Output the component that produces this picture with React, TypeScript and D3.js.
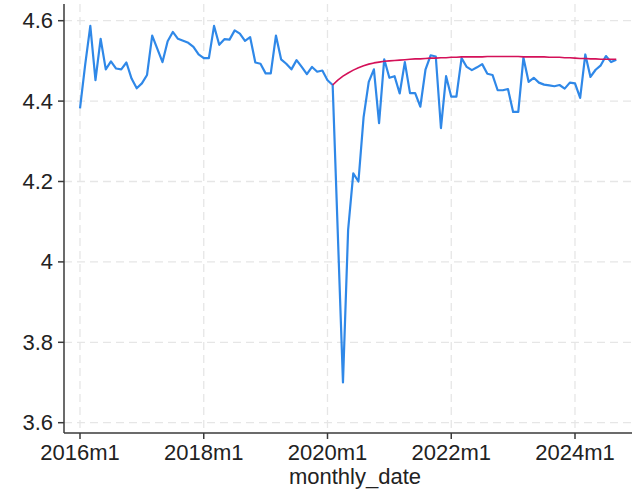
import React from "react";
import * as d3 from "d3";

const W = 643;
const H = 490;

// monthly observations from 2016m1 (index 0) to 2024m9 (index 104)
const actualValues = [
  4.382, 4.49, 4.587, 4.452, 4.555, 4.479, 4.499, 4.481, 4.479, 4.496, 4.456, 4.432,
  4.444, 4.465, 4.563, 4.53, 4.497, 4.549, 4.572, 4.555, 4.55, 4.545, 4.535, 4.516,
  4.507, 4.507, 4.587, 4.54, 4.554, 4.553, 4.576, 4.568, 4.55, 4.559, 4.496, 4.493,
  4.469, 4.469, 4.563, 4.504, 4.493, 4.479, 4.502, 4.485, 4.467, 4.485, 4.473, 4.476,
  4.452, 4.44, 4.07, 3.7, 4.08, 4.22, 4.2, 4.36, 4.448, 4.479, 4.345, 4.504,
  4.458, 4.462, 4.419, 4.497, 4.42, 4.42, 4.386, 4.478, 4.514, 4.511, 4.333, 4.462,
  4.411, 4.411, 4.507, 4.485, 4.477, 4.484, 4.492, 4.468, 4.465, 4.427, 4.427, 4.43,
  4.373, 4.373, 4.508, 4.448, 4.458, 4.446, 4.441, 4.439, 4.437, 4.44, 4.431, 4.446,
  4.444, 4.408, 4.516, 4.46, 4.478, 4.489, 4.512, 4.497, 4.503,
];

// counterfactual path starting at 2020m2 (index 49)
const forecastStart = 49;
const forecastValues = [
  4.44, 4.452, 4.462, 4.47, 4.477, 4.483, 4.488, 4.492, 4.495, 4.497, 4.499, 4.5,
  4.501, 4.502, 4.503, 4.504, 4.505, 4.505, 4.506, 4.507, 4.507, 4.508, 4.508, 4.509,
  4.509, 4.51, 4.51, 4.51, 4.51, 4.51, 4.511, 4.511, 4.511, 4.511, 4.511, 4.511,
  4.511, 4.51, 4.51, 4.51, 4.51, 4.51, 4.509, 4.509, 4.509, 4.508, 4.508, 4.507,
  4.506, 4.506, 4.505, 4.505, 4.504, 4.504, 4.504, 4.504,
];

const xTickMonths = [0, 24, 48, 72, 96];
const xTickLabels = ["2016m1", "2018m1", "2020m1", "2022m1", "2024m1"];
const yTicks = [3.6, 3.8, 4, 4.2, 4.4, 4.6];
const yTickLabels = ["3.6", "3.8", "4", "4.2", "4.4", "4.6"];
const xTitle = "monthly_date";

const FONT = "'Liberation Sans', Arial, Helvetica, sans-serif";

export default function App() {
  const plotLeft = 64;
  const plotRight = 632;
  const plotTop = 4;
  const plotBottom = 433;

  const x = d3.scaleLinear().domain([0, 96]).range([80, 575]);
  const y = d3.scaleLinear().domain([3.6, 4.6]).range([422.7, 20.7]);

  const actual = actualValues.map((v, i) => ({ m: i, v }));
  const forecast = forecastValues.map((v, i) => ({ m: forecastStart + i, v }));

  const line = d3
    .line<{ m: number; v: number }>()
    .x((d) => x(d.m))
    .y((d) => y(d.v));

  const gridColor = "#e6e6e6";
  const axisColor = "#3a3a3a";

  return (
    <svg
      width={W}
      height={H}
      style={{ position: "absolute", left: 0, top: 0, background: "#ffffff" }}
    >
      <rect x={0} y={0} width={W} height={H} fill="#ffffff" />
      {yTicks.map((t) => (
        <line
          key={"gy" + t}
          x1={plotLeft}
          x2={plotRight}
          y1={y(t)}
          y2={y(t)}
          stroke={gridColor}
          strokeWidth={1.3}
          strokeDasharray="8,5"
        />
      ))}
      {xTickMonths.map((t) => (
        <line
          key={"gx" + t}
          x1={x(t)}
          x2={x(t)}
          y1={plotTop}
          y2={plotBottom}
          stroke={gridColor}
          strokeWidth={1.3}
          strokeDasharray="8,5"
        />
      ))}
      <path d={line(actual) || ""} fill="none" stroke="#2f88e8" strokeWidth={2.2} strokeLinejoin="round" />
      <path d={line(forecast) || ""} fill="none" stroke="#d41159" strokeWidth={1.6} strokeLinejoin="round" />
      <line x1={plotLeft} x2={plotLeft} y1={plotTop} y2={plotBottom} stroke={axisColor} strokeWidth={1.5} />
      <line x1={plotLeft} x2={plotRight} y1={plotBottom} y2={plotBottom} stroke={axisColor} strokeWidth={1.5} />
      {yTicks.map((t, i) => (
        <g key={"ty" + t}>
          <line x1={plotLeft - 6} x2={plotLeft} y1={y(t)} y2={y(t)} stroke={axisColor} strokeWidth={1.5} />
          <text
            x={plotLeft - 11}
            y={y(t)}
            textAnchor="end"
            dominantBaseline="central"
            fontFamily={FONT}
            fontSize={22}
            fill="#222"
          >
            {yTickLabels[i]}
          </text>
        </g>
      ))}
      {xTickMonths.map((t, i) => (
        <g key={"tx" + t}>
          <line x1={x(t)} x2={x(t)} y1={plotBottom} y2={plotBottom + 6} stroke={axisColor} strokeWidth={1.5} />
          <text
            x={x(t)}
            y={plotBottom + 27}
            textAnchor="middle"
            fontFamily={FONT}
            fontSize={22}
            fill="#222"
          >
            {xTickLabels[i]}
          </text>
        </g>
      ))}
      <text
        x={(plotLeft + plotRight) / 2 + 7}
        y={plotBottom + 51}
        textAnchor="middle"
        fontFamily={FONT}
        fontSize={22}
        fill="#222"
      >
        {xTitle}
      </text>
    </svg>
  );
}
